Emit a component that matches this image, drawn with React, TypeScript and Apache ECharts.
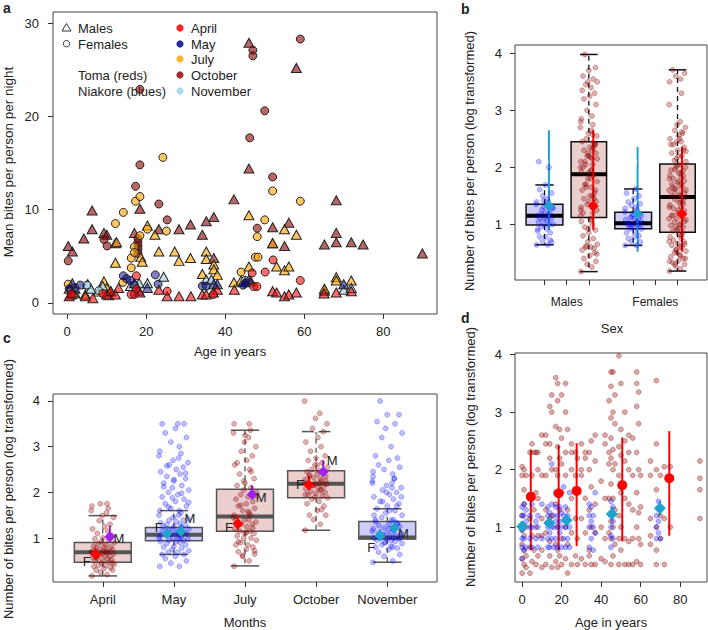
import { useEffect, useRef } from "react";
import * as echarts from "echarts";

const FONT = "'Liberation Sans', Arial, sans-serif";
const TXT = "#222";

// ---------------- Panel a : [age, mean bites per night] ----------------
const aAgeTicks = [0, 20, 40, 60, 80];
const aBiteTicks = [0, 10, 20, 30];
const aAprilMale = [[0.5,0.7],[1.5,1.1],[4.6,0.7],[6.5,0.5],[10,0.9],[11,1.3],[12.2,0.9],[13,1.6],[18.4,1.1],[23.2,1.4],[25.3,0.7],[28.3,0.7],[31.3,0.7],[34.2,0.9],[35.2,0.9],[37,1.1],[38,1.4],[42.3,1.4],[52,1.25],[53,1.1],[55,0.7],[56.1,0.9],[58,1.1],[65,1.0],[68.1,1.1],[71.9,1.25]];
const aAprilFemale = [[1,0.9],[9,1.0],[16.2,0.9],[17,0.9],[17.5,1.5],[17.5,2.9],[25.3,1.25],[37,0.9],[46.8,3.2],[47.2,1.75],[48,1.75],[50.1,3.3],[52.1,4.6],[59,2.4]];
const aMayMale = [[1.3,2.1],[2,1.5],[18,1.3],[20.3,1.6],[37.1,2.0],[38,2.0],[45,2.2],[46,2.5],[70,2.0],[17,2.1]];
const aMayFemale = [[3.3,1.9],[14.2,2.9],[15,2.6],[16,2.4],[22.3,3.0],[23,2.0],[34.2,1.8],[35.2,1.8],[45.1,2.1],[44.5,1.9],[0.5,1.5]];
const aJulyMale = [[0.5,1.5],[2,1.0],[4.6,0.9],[8,1.2],[9.3,2.3],[10,1.6],[12.2,4.3],[12.5,6.5],[18.6,4.9],[19,4.4],[20.3,8.3],[22.2,7.3],[23.2,5.5],[27.2,5.5],[28.3,4.5],[31.2,4.8],[34.2,3.1],[35.2,5.5],[35.2,4.7],[37.1,4.1],[37.1,3.6],[38,3.0],[42.2,2.2],[44,2.4],[46,3.9],[46,9.4],[52,6.4],[53,3.9],[55,3.5],[55,7.9],[56.1,3.9],[58,7.3],[65.1,1.5],[68.1,2.75],[68.1,2.4],[71.9,2.4]];
const aJulyFemale = [[0.25,2.0],[1,1.4],[12.2,8.5],[14.1,2.2],[14.2,9.7],[16.2,3.75],[16.2,4.8],[17.3,10.9],[18.4,11.4],[18.4,7.2],[20.3,7.9],[24.2,15.6],[25.1,7.7],[44,3.3],[47.6,4.9],[48.3,4.9],[48.1,7.1],[50,8.9],[52,12.0],[59,10.9],[17,6.0],[17,5.4]];
const aOctMale = [[0.25,6.1],[1.3,5.5],[1,0.9],[4.2,6.9],[6.3,9.9],[6.3,7.9],[9.3,7.5],[10,7.3],[12.2,6.4],[11,1.2],[10.5,0.8],[17,7.5],[18.4,10.1],[23.2,7.9],[28.3,7.9],[31.2,8.4],[34.2,7.3],[35.2,8.75],[37.1,9.2],[37.1,4.8],[42.2,11.1],[46,27.9],[46,14.4],[46.5,2.3],[52,8.1],[52,6.4],[55,6.1],[56.1,8.6],[58,25.2],[65.1,6.25],[65.1,1.3],[68.1,11.0],[68.1,7.5],[68.1,6.5],[71.9,6.5],[74.9,6.25],[89.9,5.3]];
const aOctFemale = [[0.25,4.5],[9.3,6.8],[10.1,6.1],[17.3,12.5],[18.4,14.8],[18.4,22.9],[17.9,6.9],[17.9,6.5],[17.9,6.1],[17.9,5.7],[17.9,5.3],[23.2,10.6],[25.3,8.9],[46.2,17.7],[47,27.1],[47,26.5],[48.1,8.0],[50,20.6],[52,13.5],[59,28.3]];
const aNovMale = [[5.2,2.0],[6,1.5],[9,1.8],[16,1.8],[18.2,2.1],[20.3,2.1],[24.4,2.8],[35.2,2.5],[36.5,2.5],[70,1.4],[71.9,1.6]];
const aNovFemale = [[5,1.9],[2,1.6],[8,1.3],[17,1.9],[45,2.4]];
const aLegendSex = ["Males", "Females"];
const aLegendSites = ["Toma (reds)", "Niakore (blues)"];
const aLegendMonths = ["April", "May", "July", "October", "November"];

// ---------------- Panel b : bites (log) by sex ----------------
const bSexLabels = ["Males", "Females"];
const bLogTicks = [1, 2, 3, 4];
// [lower whisker, Q1, median, Q3, upper whisker]
const bBoxNiakore = [[0.64,0.99,1.15,1.35,1.69],[0.63,0.92,1.02,1.21,1.62]];
const bBoxToma = [[0.17,1.12,1.88,2.45,3.98],[0.18,0.86,1.48,2.06,3.71]];
const bMaleNiakore = [0.64,0.64,0.69,0.69,0.78,0.78,0.85,0.92,0.92,0.96,1.0,1.0,1.0,1.04,1.1,1.1,1.1,1.15,1.15,1.2,1.2,1.25,1.3,1.3,1.35,1.35,1.39,1.39,1.45,1.5,1.55,1.61,1.69,0.72,0.88,1.07,1.18,1.28,1.42,2.0,2.1];
const bMaleNiakoreOut = [2.0, 2.1];
const bFemaleNiakore = [0.63,0.63,0.69,0.69,0.75,0.78,0.8,0.85,0.88,0.92,0.92,0.95,0.98,1.0,1.0,1.0,1.02,1.05,1.08,1.1,1.1,1.12,1.15,1.18,1.2,1.22,1.25,1.28,1.3,1.33,1.36,1.39,1.45,1.5,1.55,1.62,0.96,1.04,1.14];
const bFemaleNiakoreOut = [2.1, 0.44];
const bMaleToma = [0.17,0.25,0.3,0.35,0.4,0.45,0.5,0.55,0.6,0.6,0.65,0.7,0.75,0.8,0.85,0.9,0.95,1.0,1.05,1.1,0.58,0.62,0.48,0.92,1.08,
  1.15,1.2,1.25,1.3,1.35,1.4,1.45,1.5,1.55,1.6,1.65,1.7,1.75,1.8,1.85,1.2,1.4,1.6,1.7,1.5,1.3,1.8,1.45,1.65,1.25,
  1.9,1.95,2.0,2.05,2.1,2.15,2.2,2.25,2.3,2.35,2.4,2.45,1.95,2.05,2.15,2.25,2.35,2.0,2.2,2.4,2.1,2.3,1.92,2.18,2.42,
  2.5,2.55,2.6,2.65,2.7,2.75,2.8,2.9,3.0,3.1,3.2,3.25,3.3,3.35,3.4,3.45,3.5,3.5,3.55,3.6,3.7,3.75,3.98,2.58,2.85];
const bFemaleToma = [0.18,0.22,0.26,0.3,0.33,0.36,0.4,0.43,0.46,0.5,0.53,0.56,0.6,0.63,0.66,0.69,0.72,0.75,0.78,0.82,0.85,0.3,0.4,0.5,0.6,0.7,0.8,0.35,0.45,0.55,0.65,
  0.88,0.92,0.95,0.98,1.0,1.04,1.08,1.1,1.13,1.16,1.2,1.24,1.28,1.3,1.34,1.38,1.4,1.44,1.47,0.9,1.0,1.1,1.2,1.3,1.4,0.95,1.05,1.15,1.25,1.35,
  1.5,1.53,1.56,1.6,1.63,1.66,1.7,1.73,1.76,1.8,1.83,1.86,1.9,1.93,1.96,2.0,2.03,1.5,1.6,1.7,1.8,1.9,2.0,1.55,1.65,1.75,1.85,1.95,2.05,1.62,
  2.1,2.15,2.2,2.25,2.3,2.35,2.4,2.45,2.5,2.55,2.6,2.65,2.7,2.75,2.8,3.1,3.3,3.5,3.55,3.6,3.65,3.71,2.2,2.3,2.4,2.5,2.12,2.28,2.45,2.62];
// model means and intervals [mean, low, high]
const bMeanNiakore = [[1.32,0.9,2.65],[1.18,0.52,2.36]];
const bMeanToma = [[1.32,0.9,2.65],[1.18,0.52,2.36]];

// ---------------- Panel c : bites (log) by month ----------------
const cMonths = ["April", "May", "July", "October", "November"];
const cSiteIsToma = [true, false, true, true, false];
const cBoxes = [[0.17,0.47,0.69,0.90,1.49],[0.64,0.94,1.07,1.23,1.60],[0.39,1.15,1.47,2.07,3.36],[1.17,1.88,2.19,2.47,3.33],[0.47,0.98,1.01,1.36,1.64]];
const cApril = [0.17,0.2,0.25,0.3,0.3,0.33,0.35,0.38,0.4,0.4,0.42,0.45,0.47,0.5,0.5,0.52,0.55,0.55,0.58,0.6,0.6,0.62,0.65,0.65,0.68,0.69,0.69,0.7,0.72,0.75,0.75,0.78,0.8,0.8,0.82,0.85,0.88,0.9,0.92,0.95,0.98,1.0,1.05,1.1,1.15,1.2,1.25,1.3,1.38,1.45,1.49,1.55,1.6,1.65,1.7,1.75,1.75,0.45,0.58,0.72];
const cMay = [0.38,0.38,0.45,0.5,0.55,0.6,0.64,0.64,0.69,0.69,0.72,0.75,0.78,0.8,0.82,0.85,0.88,0.9,0.92,0.92,0.95,0.95,0.98,1.0,1.0,1.0,1.02,1.05,1.05,1.08,1.1,1.1,1.1,1.12,1.15,1.15,1.18,1.2,1.2,1.22,1.25,1.25,1.28,1.3,1.3,1.33,1.36,1.39,1.39,1.42,1.45,1.5,1.5,1.55,1.6,1.6,1.65,1.7,1.75,1.8,1.85,1.9,1.95,2.0,2.05,2.1,2.15,2.2,2.25,2.3,2.35,2.4,2.45,2.5,2.55,2.6,2.65,2.7,2.75,2.8,2.85,2.9,3.0,3.1,3.2,3.3,3.4,3.5,3.5,3.5,1.68,1.78,1.88,1.98,2.12,2.28,2.42,2.58];
const cJuly = [0.38,0.5,0.6,0.65,0.7,0.75,0.8,0.85,0.85,0.9,0.95,1.0,1.0,1.05,1.1,1.1,1.15,1.15,1.2,1.25,1.3,1.3,1.35,1.4,1.4,1.45,1.5,1.5,1.55,1.6,1.65,1.7,1.75,1.8,1.85,1.9,1.95,2.0,2.05,2.1,2.15,2.2,2.3,2.4,2.5,2.6,2.7,2.8,2.9,3.0,3.1,3.2,3.3,3.36,3.5,3.5,0.62,0.72,0.92,1.12,1.22,1.38,1.58,1.72,1.92,2.25,2.45,2.65,3.25];
const cOctober = [1.17,1.3,1.4,1.5,1.5,1.6,1.7,1.75,1.8,1.85,1.88,1.9,1.92,1.95,1.98,2.0,2.02,2.05,2.08,2.1,2.12,2.15,2.18,2.2,2.2,2.22,2.25,2.28,2.3,2.32,2.35,2.38,2.4,2.42,2.45,2.47,2.5,2.55,2.6,2.65,2.7,2.75,2.8,2.9,3.0,3.1,3.2,3.33,3.4,3.5,3.62,3.73,4.0,1.62,1.95,2.05,2.15,2.25,2.35,2.6];
const cNovember = [0.47,0.5,0.6,0.64,0.69,0.75,0.78,0.8,0.82,0.85,0.88,0.9,0.92,0.95,0.98,0.98,1.0,1.0,1.0,1.02,1.05,1.08,1.1,1.1,1.12,1.15,1.18,1.2,1.2,1.22,1.25,1.28,1.3,1.33,1.36,1.39,1.45,1.5,1.55,1.6,1.64,1.7,1.75,1.8,1.85,1.9,1.95,2.0,2.05,2.1,2.15,2.2,2.25,2.3,2.35,2.4,2.5,2.55,2.6,2.7,2.75,2.8,3.0,3.2,3.3,3.4,3.5,3.55,3.7,3.7,4.0,1.4,1.5,1.6,1.7,1.8,1.9,2.0,2.1,2.2,2.3,2.45,0.8,0.9,1.0,1.1,1.2,1.3,1.4,0.95];
const cOutliers = [[1.58,1.64,1.7,1.75],[2.0,2.1],[3.5],[3.4,3.5,3.62,3.73,4.0],[]];
// [mean, low, high] for females (F) and males (M)
const cMeanF = [[0.64,0.57,0.78],[1.1,1.0,1.25],[1.31,1.18,1.5],[2.16,2.05,2.35],[1.05,0.95,1.2]];
const cMeanM = [[1.03,0.92,1.27],[1.15,1.05,1.3],[1.95,1.85,2.15],[2.45,2.35,2.7],[1.22,1.1,1.4]];

// ---------------- Panel d : bites (log) by age ----------------
const dAgeTicks = [0, 20, 40, 60, 80];
const dToma = [[0,0.2],[0,0.45],[0,0.7],[0,0.95],[0,1.2],[0,1.9],[0,2.05],[1,0.35],[1,0.6],[1,0.85],[1,1.4],[1,1.65],[1,2.0],[2,0.5],[2,0.3],[2,1.0],[2,1.9],
  [4,0.2],[4,0.65],[4,1.15],[4,2.3],[5,0.4],[5,0.85],[5,1.9],[5,2.45],[6,0.6],[6,1.3],[6,2.3],[7,0.35],[7,1.0],[7,1.6],[7,2.3],[8,0.5],[8,0.85],[8,1.5],[8,2.0],[8,2.3],
  [10,0.3],[10,0.6],[10,0.85],[10,1.15],[10,1.9],[10,2.6],[12,0.35],[12,0.9],[12,1.3],[12,1.9],[12,2.45],[12,2.6],[14,0.5],[14,0.75],[14,1.15],[14,2.2],[14,2.45],[14,3.1],
  [15,0.3],[15,1.2],[15,2.0],[15,3.3],[15,3.0],[17,0.4],[17,0.7],[17,1.4],[17,2.0],[17,2.75],[17,3.6],[18,0.3],[18,0.6],[18,1.0],[18,1.6],[18,1.9],[18,2.4],[18,3.2],[18,3.5],
  [19,0.5],[19,1.3],[19,2.2],[19,2.7],[20,0.35],[20,0.8],[20,1.6],[20,2.1],[20,2.55],[20,3.3],[22,0.45],[22,1.0],[22,1.9],[22,2.3],[22,3.0],[22,3.5],[23,0.2],[23,0.7],[23,1.3],[23,2.7],
  [25,0.35],[25,0.9],[25,1.5],[25,2.0],[25,2.3],[25,2.45],[27,0.5],[27,1.15],[27,1.9],[27,2.3],[28,0.35],[28,0.8],[28,1.6],[28,2.2],[30,0.45],[30,1.15],[30,1.9],[30,2.0],[30,2.45],
  [32,0.35],[32,0.9],[32,1.5],[32,2.2],[32,2.3],[34,0.5],[34,0.6],[34,1.3],[34,2.0],[34,2.3],[35,0.35],[35,1.0],[35,1.7],[35,2.5],[37,0.35],[37,0.9],[37,1.4],[37,2.15],[37,2.6],
  [40,0.45],[40,1.0],[40,1.8],[42,0.4],[42,0.8],[42,1.5],[42,2.45],[42,2.6],[44,0.9],[44,1.5],[44,2.1],[44,2.3],[44,3.2],
  [45,0.35],[45,0.8],[45,1.1],[45,1.75],[45,2.2],[45,2.55],[45,2.9],[45,3.7],[45,3.45],[46,0.5],[46,1.0],[46,1.5],[46,2.0],[46,2.35],[46,3.0],[46,3.7],[47,0.7],[47,1.3],[47,2.1],[47,2.8],[47,3.3],
  [49,0.35],[49,0.8],[49,1.2],[49,1.9],[49,2.4],[49,3.98],[50,0.6],[50,1.0],[50,1.6],[50,2.25],[50,2.7],[50,3.5],[52,0.35],[52,0.8],[52,1.5],[52,2.15],[52,2.5],[52,3.0],
  [54,0.35],[54,0.75],[54,1.4],[54,2.0],[54,2.3],[54,2.6],[56,0.35],[56,0.8],[56,1.3],[56,1.9],[56,2.55],[58,0.4],[58,1.0],[58,1.6],[58,2.3],[58,3.5],[58,3.7],[58,3.1],
  [59,0.8],[59,1.25],[59,2.0],[59,2.8],[59,3.35],[60,0.35],[60,0.7],[60,1.35],[60,1.9],[65,0.7],[65,0.85],[65,1.15],[65,1.9],[65,2.15],
  [68,0.35],[68,0.6],[68,1.0],[68,1.65],[68,2.0],[68,2.45],[68,3.55],[70,0.8],[70,1.2],[70,1.9],[72,0.35],[72,1.15],[72,2.05],[75,1.0],[75,2.05],[90,1.15],[90,1.65],[90,1.85],[90,2.15]];
const dNiakore = [[0,0.45],[0,0.65],[0,0.8],[0,0.95],[0,1.05],[0,1.2],[0,1.35],[1,0.6],[1,0.8],[1,1.0],[1,1.2],[1,1.4],[2,0.65],[2,1.1],[2,1.3],[4,0.8],[4,1.0],[4,1.2],[5,0.65],[5,1.0],[5,1.4],[7,0.8],[7,1.1],[8,0.65],[8,1.0],[8,1.2],[10,0.8],[10,1.4],
  [13,0.65],[13,0.8],[13,1.0],[13,1.2],[13,1.35],[14,0.65],[14,0.9],[14,1.1],[14,1.25],[15,0.8],[15,1.0],[15,1.4],[15,2.1],[16,0.65],[16,1.0],[16,1.2],[17,0.8],[17,1.1],[17,1.35],[17,1.6],
  [18,0.65],[18,1.0],[18,1.2],[19,0.9],[19,1.1],[19,1.35],[20,0.65],[20,1.0],[20,1.25],[21,0.8],[21,1.2],[21,1.7],[22,0.65],[22,1.0],[22,1.35],[23,0.8],[23,1.2],[24,0.65],[24,1.0],[24,1.6],
  [34,0.65],[34,1.0],[34,1.2],[34,1.4],[35,0.8],[35,1.1],[35,1.35],[36,0.6],[36,1.0],[36,1.2],[37,0.9],[37,1.6],
  [45,0.65],[45,0.85],[45,1.0],[45,1.2],[45,1.45],[46,0.8],[46,1.1],[46,1.35],[68,0.8],[68,1.0],[68,1.2],[69,0.9],[69,1.1],[69,1.45],[70,0.8],[70,1.3]];
// [age, mean, low, high]
const dMeanToma = [[4.4,1.53,0.6,2.35],[18.5,1.59,0.6,2.42],[27.6,1.63,0.67,2.46],[50.7,1.73,0.75,2.56],[74.5,1.85,0.85,2.67]];
const dMeanNiakore = [[0,1.01,0.92,1.1],[13.7,1.07,0.98,1.16],[22.5,1.12,1.02,1.22],[45.4,1.23,1.12,1.35],[69.7,1.33,1.2,1.45]];

// horizontal jitter pattern (style only)
const JITTER = [-0.9,0.35,-0.2,0.8,-0.55,0.1,0.65,-0.75,0.25,-0.35,0.95,-0.1,0.5,-0.65,0.0,0.75,-0.45,0.4,-0.85,0.15,0.6,-0.3,0.9,-0.05,0.3,-0.95,0.45];

const RED_PT = "rgba(139,0,0,0.3)";
const RED_PT_B = "rgba(139,0,0,0.5)";
const BLUE_PT = "rgba(0,0,255,0.25)";
const BLUE_PT_B = "rgba(0,0,255,0.45)";
const LBLUE = "#1FA2D0";
const PURPLE = "#A020F0";
const RED = "#FF0000";
const BOX_RED = "#EBCFCF";
const BOX_BLUE = "#CDCDF8";

function jitter(values: number[], center: number, width: number) {
  return values.map((v, i) => [center + JITTER[i % JITTER.length] * width, v]);
}

function boxRender(fill: string, stroke: string, medColor: string, hw: number) {
  return (_p: any, api: any) => {
    const x = api.value(0);
    const lo = api.value(1), q1 = api.value(2), med = api.value(3), q3 = api.value(4), hi = api.value(5);
    const tl = api.coord([x - hw, q3]);
    const br = api.coord([x + hw, q1]);
    const m = api.coord([x, med]);
    const yLo = api.coord([x, lo])[1];
    const yHi = api.coord([x, hi])[1];
    const cx = m[0];
    const cap = (br[0] - tl[0]) / 4;
    return {
      type: "group",
      children: [
        { type: "line", shape: { x1: cx, y1: tl[1], x2: cx, y2: yHi }, style: { stroke, lineWidth: 1.3, lineDash: [5, 4] } },
        { type: "line", shape: { x1: cx, y1: br[1], x2: cx, y2: yLo }, style: { stroke, lineWidth: 1.3, lineDash: [5, 4] } },
        { type: "line", shape: { x1: cx - cap, y1: yHi, x2: cx + cap, y2: yHi }, style: { stroke, lineWidth: 1.5 } },
        { type: "line", shape: { x1: cx - cap, y1: yLo, x2: cx + cap, y2: yLo }, style: { stroke, lineWidth: 1.5 } },
        { type: "rect", shape: { x: tl[0], y: tl[1], width: br[0] - tl[0], height: br[1] - tl[1] }, style: { fill, stroke, lineWidth: 1.5 } },
        { type: "line", shape: { x1: tl[0], y1: m[1], x2: br[0], y2: m[1] }, style: { stroke: medColor, lineWidth: 4 } },
      ],
    };
  };
}

function vlineRender(color: string, width: number) {
  return (_p: any, api: any) => {
    const a = api.coord([api.value(0), api.value(1)]);
    const b = api.coord([api.value(0), api.value(2)]);
    return { type: "line", shape: { x1: a[0], y1: a[1], x2: b[0], y2: b[1] }, style: { stroke: color, lineWidth: width } };
  };
}

function xAx(gi: number, min: number, max: number, ticks: number[], labels: number[], margin: number, fontSize: number, fmt?: (v: number) => string) {
  return {
    type: "value", gridIndex: gi, min, max,
    axisLine: { show: false, onZero: false }, splitLine: { show: false },
    axisTick: { show: true, inside: false, length: 5, lineStyle: { color: "#333" }, customValues: ticks },
    axisLabel: { show: true, customValues: labels, margin, fontSize, fontFamily: FONT, color: TXT, formatter: fmt || ((v: number) => String(v)) },
  };
}
function yAx(gi: number, min: number, max: number, ticks: number[], margin: number) {
  return {
    type: "value", gridIndex: gi, min, max,
    axisLine: { show: false, onZero: false }, splitLine: { show: false },
    axisTick: { show: true, inside: false, length: 5, lineStyle: { color: "#333" }, customValues: ticks },
    axisLabel: { show: true, customValues: ticks, margin, fontSize: 13, fontFamily: FONT, color: TXT, formatter: (v: number) => String(v) },
  };
}

function sc(gi: number, data: any[], symbol: string, size: any, color: string, border: string, bw: number, extra: any = {}) {
  return { type: "scatter", xAxisIndex: gi, yAxisIndex: gi, data, symbol, symbolSize: size, silent: true,
    itemStyle: { color, borderColor: border, borderWidth: bw, opacity: 1 }, ...extra };
}

function buildOption() {
  const series: any[] = [];
  // ---- panel a ----
  const aCol = {
    oct: "rgba(139,0,0,0.6)", jul: "rgba(255,165,0,0.62)", nov: "rgba(173,216,230,0.75)", may: "rgba(0,0,139,0.5)", apr: "rgba(255,0,0,0.58)",
  };
  const aSets: [number[][], number[][], string][] = [
    [aOctMale, aOctFemale, aCol.oct], [aJulyMale, aJulyFemale, aCol.jul], [aNovMale, aNovFemale, aCol.nov],
    [aMayMale, aMayFemale, aCol.may], [aAprilMale, aAprilFemale, aCol.apr],
  ];
  aSets.forEach(([m, f, c]) => {
    series.push(sc(0, m, "triangle", [10, 9], c, "#222", 1));
    series.push(sc(0, f, "circle", 8, c, "#222", 1));
  });

  // ---- panel b ----
  const bPosN = [1, 3], bPosT = [2, 4];
  series.push({ type: "custom", xAxisIndex: 1, yAxisIndex: 1, silent: true, renderItem: boxRender(BOX_BLUE, "#111", "#000", 0.415),
    data: bBoxNiakore.map((s, i) => [bPosN[i], ...s]) });
  series.push({ type: "custom", xAxisIndex: 1, yAxisIndex: 1, silent: true, renderItem: boxRender(BOX_RED, "#111", "#000", 0.4),
    data: bBoxToma.map((s, i) => [bPosT[i], ...s]) });
  series.push(sc(1, [...bMaleNiakoreOut.map((v) => [1, v]), ...bFemaleNiakoreOut.map((v) => [3, v])], "emptyCircle", 6, "#fff", "#1a1a70", 1.6));
  series.push(sc(1, [...jitter(bMaleNiakore, 1, 0.2), ...jitter(bFemaleNiakore, 3, 0.2)], "circle", 5, BLUE_PT, BLUE_PT_B, 0.6));
  series.push(sc(1, [...jitter(bMaleToma, 2, 0.2), ...jitter(bFemaleToma, 4, 0.2)], "circle", 5, RED_PT, RED_PT_B, 0.6));
  series.push({ type: "custom", xAxisIndex: 1, yAxisIndex: 1, silent: true, renderItem: vlineRender(LBLUE, 2),
    data: bMeanNiakore.map((m, i) => [bPosN[i] + 0.1, m[1], m[2]]) });
  series.push({ type: "custom", xAxisIndex: 1, yAxisIndex: 1, silent: true, renderItem: vlineRender(RED, 2),
    data: bMeanToma.map((m, i) => [bPosT[i] + 0.1, m[1], m[2]]) });
  series.push(sc(1, bMeanNiakore.map((m, i) => [bPosN[i] + 0.1, m[0]]), "diamond", 11, LBLUE, LBLUE, 0));
  series.push(sc(1, bMeanToma.map((m, i) => [bPosT[i] + 0.1, m[0]]), "diamond", 11, RED, RED, 0));

  // ---- panel c ----
  series.push({ type: "custom", xAxisIndex: 2, yAxisIndex: 2, silent: true, renderItem: boxRender(BOX_RED, "#555", "#555", 0.4),
    data: cBoxes.map((s, i) => (cSiteIsToma[i] ? [i + 1, ...s] : null)).filter(Boolean) });
  series.push({ type: "custom", xAxisIndex: 2, yAxisIndex: 2, silent: true, renderItem: boxRender(BOX_BLUE, "#555", "#555", 0.4),
    data: cBoxes.map((s, i) => (!cSiteIsToma[i] ? [i + 1, ...s] : null)).filter(Boolean) });
  const outPts: number[][] = [];
  cOutliers.forEach((arr, i) => arr.forEach((v) => outPts.push([i + 1, v])));
  series.push(sc(2, outPts, "emptyCircle", 6, "#fff", "#444", 1.5));
  const cVals = [cApril, cMay, cJuly, cOctober, cNovember];
  const cRed: number[][] = [], cBlue: number[][] = [];
  cVals.forEach((vals, i) => {
    const pts = jitter(vals, i + 1, cSiteIsToma[i] ? 0.17 : 0.22);
    (cSiteIsToma[i] ? cRed : cBlue).push(...pts);
  });
  series.push(sc(2, cBlue, "circle", 5, BLUE_PT, BLUE_PT_B, 0.6));
  series.push(sc(2, cRed, "circle", 5, RED_PT, RED_PT_B, 0.6));
  const fOff = [[-9, 7], [-8, -6], [-9, 4], [-9, -1], [-9, 12]];
  const mOff = [[9, 2], [9, -13], [9, 3], [9, -11], [9, 6]];
  cMeanF.forEach((m, i) => {
    const col = cSiteIsToma[i] ? RED : LBLUE;
    series.push({ type: "custom", xAxisIndex: 2, yAxisIndex: 2, silent: true, renderItem: vlineRender(col, 2), data: [[i + 0.9, m[1], m[2]]] });
    series.push(sc(2, [{ value: [i + 0.9, m[0]], label: { show: true, formatter: "F", position: "inside", offset: fOff[i], color: TXT, fontSize: 13, fontFamily: FONT } }], "diamond", 11, col, col, 0));
  });
  cMeanM.forEach((m, i) => {
    const col = cSiteIsToma[i] ? PURPLE : LBLUE;
    series.push({ type: "custom", xAxisIndex: 2, yAxisIndex: 2, silent: true, renderItem: vlineRender(col, 2), data: [[i + 1.1, m[1], m[2]]] });
    series.push(sc(2, [{ value: [i + 1.1, m[0]], label: { show: true, formatter: "M", position: "inside", offset: mOff[i], color: TXT, fontSize: 13, fontFamily: FONT } }], "diamond", 11, col, col, 0));
  });

  // ---- panel d ----
  series.push(sc(3, dToma, "circle", 5, "rgba(139,0,0,0.34)", "rgba(139,0,0,0.5)", 0.6));
  series.push(sc(3, dNiakore, "circle", 5, "rgba(0,0,255,0.3)", "rgba(0,0,255,0.45)", 0.6));
  series.push({ type: "custom", xAxisIndex: 3, yAxisIndex: 3, silent: true, renderItem: vlineRender(RED, 2), data: dMeanToma.map((m) => [m[0], m[2], m[3]]) });
  series.push({ type: "custom", xAxisIndex: 3, yAxisIndex: 3, silent: true, renderItem: vlineRender(LBLUE, 2), data: dMeanNiakore.map((m) => [m[0], m[2], m[3]]) });
  series.push(sc(3, dMeanToma.map((m) => [m[0], m[1]]), "circle", 10, RED, RED, 0));
  series.push(sc(3, dMeanNiakore.map((m) => [m[0], m[1]]), "diamond", 12, LBLUE, LBLUE, 0));

  const txt = (text: string, x: number, y: number, size = 13, weight = "normal", align = "left") => ({
    type: "text", x, y, silent: true,
    style: { text, fill: TXT, fontSize: size, fontFamily: FONT, fontWeight: weight, align, verticalAlign: "middle" },
  });
  const vtxt = (text: string, x: number, y: number, size = 13) => ({
    type: "group", x, y, rotation: Math.PI / 2, silent: true,
    children: [{ type: "text", x: 0, y: 0, style: { text, fill: TXT, fontSize: size, fontFamily: FONT, align: "center", verticalAlign: "middle" } }],
  });
  const legendCols = ["#FF2020", "#2A2AA0", "#FFB42E", "#A52A2A", "#ADD8E6"];
  const legendY = [28, 44, 59, 75, 91];
  const graphic: any[] = [
    txt("a", 3, 8, 14, "bold"), txt("b", 461, 9, 14, "bold"), txt("c", 3, 338, 14, "bold"), txt("d", 461, 318, 14, "bold"),
    vtxt("Mean bites per person per night", 8, 162, 13.5),
    vtxt("Number of bites per person (log transformed)", 469, 161, 13),
    vtxt("Number of bites per person (log transformed)", 8, 489, 13),
    vtxt("Number of bites per person (log transformed)", 470, 457, 13),
    txt("Age in years", 230, 351, 13, "normal", "center"),
    txt("Sex", 612, 328, 13, "normal", "center"),
    txt("Months", 245, 622, 13, "normal", "center"),
    txt("Age in years", 611, 622, 13, "normal", "center"),
    { type: "polygon", silent: true, shape: { points: [[62, 31], [71, 31], [66.5, 23.5]] }, style: { fill: "none", stroke: "#333", lineWidth: 1 } },
    { type: "circle", silent: true, shape: { cx: 66.5, cy: 43.7, r: 3.2 }, style: { fill: "none", stroke: "#333", lineWidth: 1 } },
    txt(aLegendSex[0], 78, 28), txt(aLegendSex[1], 78, 44),
    txt(aLegendSites[0], 78, 75), txt(aLegendSites[1], 78, 91),
    ...aLegendMonths.map((m, i) => txt(m, 191, legendY[i])),
    ...aLegendMonths.map((_m, i) => ({ type: "circle", silent: true, shape: { cx: 180, cy: legendY[i], r: 3.6 }, style: { fill: legendCols[i] } })),
  ];

  const gridBase = { show: true, borderColor: "#444", borderWidth: 1, backgroundColor: "transparent", outerBoundsMode: "none", containLabel: false };
  return {
    animation: false,
    backgroundColor: "#fff",
    grid: [
      { ...gridBase, left: 53, top: 12, width: 384, height: 302 },
      { ...gridBase, left: 515, top: 45, width: 192, height: 235 },
      { ...gridBase, left: 53, top: 394, width: 384, height: 188 },
      { ...gridBase, left: 515, top: 353, width: 192, height: 229 },
    ],
    xAxis: [
      xAx(0, -3.6, 93.6, aAgeTicks, aAgeTicks, 11, 13),
      xAx(1, 0.335, 4.665, [1, 1.5, 2, 3, 3.5, 4], [1.5, 3.5], 16, 12, (v: number) => (v < 2 ? bSexLabels[0] : bSexLabels[1])),
      xAx(2, 0.3, 5.7, [1, 2, 3, 4, 5], [1, 2, 3, 4, 5], 11, 13, (v: number) => cMonths[Math.round(v) - 1]),
      xAx(3, -3.6, 93.6, dAgeTicks, dAgeTicks, 11, 13),
    ],
    yAxis: [
      yAx(0, -1.2, 31.2, aBiteTicks, 14),
      yAx(1, 0.023, 4.146, bLogTicks, 13),
      yAx(2, 0.037, 4.153, bLogTicks, 13),
      yAx(3, 0.045, 4.03, bLogTicks, 13),
    ],
    series,
    graphic,
  };
}

export default function App() {
  const ref = useRef<HTMLDivElement>(null);
  useEffect(() => {
    if (!ref.current) return;
    const chart = echarts.init(ref.current, null, { renderer: "svg" });
    chart.setOption(buildOption() as any);
    return () => chart.dispose();
  }, []);
  return <div ref={ref} style={{ position: "absolute", left: 0, top: 0, width: 708, height: 630, background: "#fff" }} />;
}
